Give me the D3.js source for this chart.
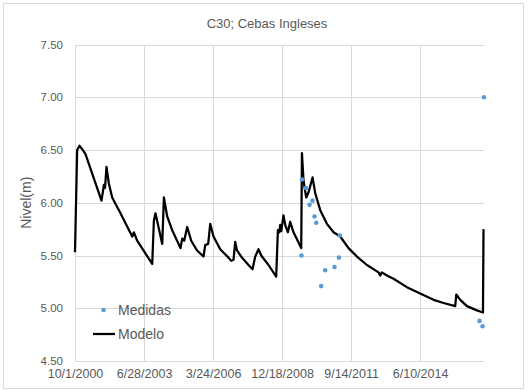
<!DOCTYPE html>
<html><head><meta charset="utf-8">
<script src="https://cdn.jsdelivr.net/npm/d3@7"></script>
<style>body{margin:0;background:#fff}svg{display:block}</style>
</head><body><svg id="c" width="528" height="390"></svg>
<script>
const chartTitle = "C30; Cebas Ingleses";
const yTitle = "Nivel(m)";
const seriesNames = ["Medidas", "Modelo"];
const modelDates = ["2000-10-01","2000-11-01","2000-12-05","2001-01-23","2001-03-02","2001-10-20","2001-11-24","2001-12-10","2001-12-31","2002-02-04","2002-03-24","2002-07-22","2003-01-08","2003-02-01","2003-03-21","2003-10-25","2003-11-18","2003-12-11","2004-03-18","2004-04-11","2004-05-29","2004-08-09","2004-12-08","2005-01-01","2005-01-30","2005-03-15","2005-05-12","2005-08-02","2005-11-06","2005-12-01","2006-01-13","2006-02-11","2006-03-31","2006-07-06","2006-11-03","2006-12-12","2007-01-15","2007-02-08","2007-03-05","2007-05-16","2007-08-20","2007-10-17","2007-11-25","2008-01-12","2008-02-20","2008-06-05","2008-09-24","2008-10-19","2008-11-07","2008-11-21","2008-12-06","2009-01-08","2009-02-02","2009-03-13","2009-04-15","2009-06-02","2009-09-22","2009-10-02","2009-10-25","2009-12-03","2010-01-06","2010-03-05","2010-04-13","2010-06-24","2010-09-29","2011-01-03","2011-04-10","2011-08-08","2011-12-08","2012-05-01","2012-10-16","2012-11-09","2012-12-04","2013-02-14","2013-05-21","2013-12-01","2014-06-12","2014-12-22","2015-05-16","2015-11-01","2015-11-16","2016-01-13","2016-04-19","2016-09-11","2016-12-07","2016-12-15"];
const modelValues = [5.53,6.50,6.54,6.50,6.46,6.02,6.17,6.14,6.34,6.18,6.05,5.90,5.68,5.72,5.64,5.42,5.83,5.90,5.61,6.05,5.87,5.74,5.57,5.66,5.64,5.77,5.64,5.55,5.49,5.60,5.61,5.80,5.68,5.56,5.48,5.45,5.46,5.63,5.55,5.48,5.41,5.37,5.49,5.56,5.50,5.41,5.30,5.74,5.72,5.79,5.73,5.88,5.79,5.72,5.82,5.72,5.57,6.47,6.21,6.05,6.10,6.24,6.09,5.93,5.80,5.72,5.68,5.57,5.49,5.41,5.34,5.31,5.34,5.31,5.28,5.20,5.14,5.08,5.05,5.02,5.13,5.08,5.02,4.98,4.96,5.75];
const measuredDates = ["2009-09-26","2009-10-02","2009-11-29","2010-01-20","2010-03-04","2010-04-02","2010-04-27","2010-07-08","2010-09-04","2011-01-17","2011-03-22","2011-04-05","2016-10-18","2016-12-01","2016-12-22"];
const measuredValues = [5.50,6.22,6.14,5.98,6.02,5.87,5.81,5.21,5.36,5.39,5.48,5.69,4.88,4.83,7.00];
const xTickLabels = ["10/1/2000","6/28/2003","3/24/2006","12/18/2008","9/14/2011","6/10/2014"];
const xDomain = ["2000-10-01","2016-12-22"];
const yTicks = [4.5,5.0,5.5,6.0,6.5,7.0,7.5];

const svg = d3.select("#c");
const W = 528, H = 390;
const m = {left: 75, right: 528-484, top: 44.5, bottom: 390-361};
const iso = d3.utcParse("%Y-%m-%d");
const mdy = d3.utcParse("%m/%d/%Y");
const x = d3.scaleUtc().domain(xDomain.map(iso)).range([m.left, W - m.right]);
const y = d3.scaleLinear().domain([4.5, 7.5]).range([H - m.bottom, m.top]);
const grey = "#595959", gridC = "#d9d9d9";
const font = "'Liberation Sans', Arial, sans-serif";

svg.append("rect").attr("x",3.5).attr("y",3.5).attr("width",520).attr("height",385)
  .attr("fill","#fff").attr("stroke","#d9d9d9").attr("stroke-width",1);

// horizontal grid + y labels
const yAxis = d3.axisLeft(y).tickValues(yTicks).tickFormat(d3.format(".2f"))
  .tickSize(-(W - m.left - m.right)).tickPadding(12);
const gy = svg.append("g").attr("transform",`translate(${m.left},0)`).call(yAxis);
gy.select(".domain").remove();
gy.selectAll(".tick line").attr("stroke",gridC).attr("stroke-width",1).attr("shape-rendering","crispEdges");
gy.selectAll(".tick text").attr("fill",grey).style("font-family",font).style("font-size","11.5px");

// vertical grid + x labels
const xTicks = xTickLabels.map(mdy);
const xAxis = d3.axisBottom(x).tickValues(xTicks).tickFormat((d,i)=>xTickLabels[i])
  .tickSize(-(H - m.top - m.bottom)).tickPadding(8);
const gx = svg.append("g").attr("transform",`translate(0,${H - m.bottom})`).call(xAxis);
gx.select(".domain").attr("stroke",gridC).attr("d",`M${m.left},0.5H${W-m.right}`).attr("shape-rendering","crispEdges");
gx.selectAll(".tick line").attr("stroke",gridC).attr("stroke-width",1).attr("shape-rendering","crispEdges");
gx.selectAll(".tick text").attr("fill",grey).style("font-family",font).style("font-size","12.5px");

// model line
const modelData = modelDates.map((d,i)=>({d: iso(d), v: modelValues[i]}));
svg.append("path").datum(modelData)
  .attr("fill","none").attr("stroke","#000").attr("stroke-width",2.25).attr("stroke-linejoin","round")
  .attr("d", d3.line().x(p=>x(p.d)).y(p=>y(p.v)));

// measured points
const measData = measuredDates.map((d,i)=>({d: iso(d), v: measuredValues[i]}));
svg.append("g").selectAll("circle").data(measData).join("circle")
  .attr("cx",p=>x(p.d)).attr("cy",p=>y(p.v)).attr("r",2.3).attr("fill","#5b9bd5");

// title
svg.append("text").attr("x",267).attr("y",27.5).attr("text-anchor","middle")
  .attr("fill",grey).style("font-family",font).style("font-size","13px").text(chartTitle);

// y title
svg.append("text").attr("transform",`translate(31,${(m.top + H - m.bottom)/2}) rotate(-90)`)
  .attr("text-anchor","middle").attr("fill",grey).style("font-family",font).style("font-size","14px").text(yTitle);

// legend
const lg = svg.append("g");
lg.append("circle").attr("cx",103.5).attr("cy",310).attr("r",2.3).attr("fill","#5b9bd5");
lg.append("text").attr("x",118).attr("y",315).attr("fill",grey).style("font-family",font).style("font-size","14px").text(seriesNames[0]);
lg.append("line").attr("x1",93).attr("x2",115).attr("y1",334).attr("y2",334).attr("stroke","#000").attr("stroke-width",2.25);
lg.append("text").attr("x",118).attr("y",339).attr("fill",grey).style("font-family",font).style("font-size","14px").text(seriesNames[1]);
</script>
</body></html>
